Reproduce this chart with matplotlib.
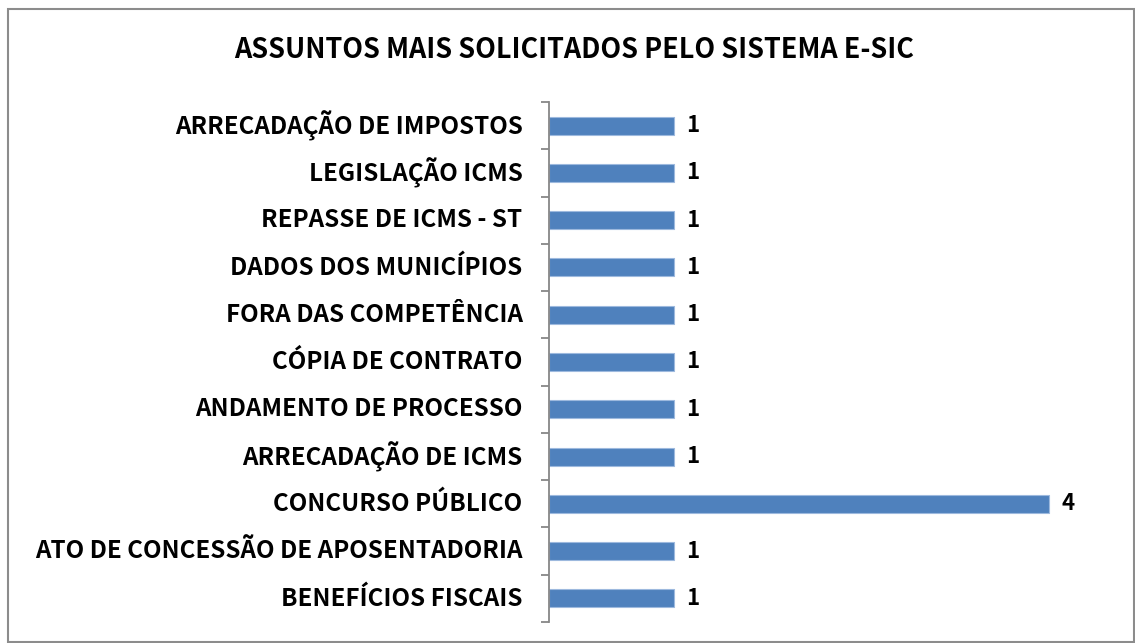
import matplotlib
matplotlib.use('Agg')
import matplotlib.pyplot as plt
from matplotlib.patches import Rectangle
import numpy as np

plt.rcParams['font.family'] = ['Noto Sans CJK JP', 'DejaVu Sans']

assuntos = ['BENEFÍCIOS FISCAIS', 'ATO DE CONCESSÃO DE APOSENTADORIA', 'CONCURSO PÚBLICO',
            'ARRECADAÇÃO DE ICMS', 'ANDAMENTO DE PROCESSO', 'CÓPIA DE CONTRATO',
            'FORA DAS COMPETÊNCIA', 'DADOS DOS MUNICÍPIOS', 'REPASSE DE ICMS - ST',
            'LEGISLAÇÃO ICMS', 'ARRECADAÇÃO DE IMPOSTOS']
pedidos = [1, 1, 4, 1, 1, 1, 1, 1, 1, 1, 1]

fig = plt.figure(figsize=(11.35, 6.43), dpi=100)
fig.patches.append(Rectangle((8/1135, 1/643), 1126/1135, 633/643, transform=fig.transFigure,
                             fill=False, edgecolor='#8c8c8c', linewidth=1.5))
ax = fig.add_axes([549/1135, 21/643, 562/1135, 520/643])

ind = np.arange(len(assuntos))
ax.barh(ind, pedidos, height=0.38, color='#4F81BD', edgecolor='#9DB9DE', linewidth=0.8)
for i, v in zip(ind, pedidos):
    ax.annotate(str(v), (v, i), xytext=(9, 0), textcoords='offset points',
                va='center', ha='left', fontsize=16, fontweight='bold')

ax.set_xlim(0, 4.5)
ax.set_ylim(-0.5, len(assuntos) - 0.5)
ax.set_yticks(ind)
ax.set_yticklabels(assuntos, fontsize=17.4, fontweight='bold', va='center')
ax.set_yticks(np.arange(-0.5, len(assuntos)), minor=True)
ax.tick_params(axis='y', which='major', length=0, pad=19)
ax.tick_params(axis='y', which='minor', length=6, width=1.3, color='#878787')
ax.set_xticks([])
for s in ['top', 'right', 'bottom']:
    ax.spines[s].set_visible(False)
ax.spines['left'].set_color('#878787')
ax.spines['left'].set_linewidth(1.3)

fig.text(574/1135, 1 - 50/643, 'ASSUNTOS MAIS SOLICITADOS PELO SISTEMA E-SIC',
         ha='center', va='center', fontsize=19.4, fontweight='bold')

plt.savefig('out.png')
